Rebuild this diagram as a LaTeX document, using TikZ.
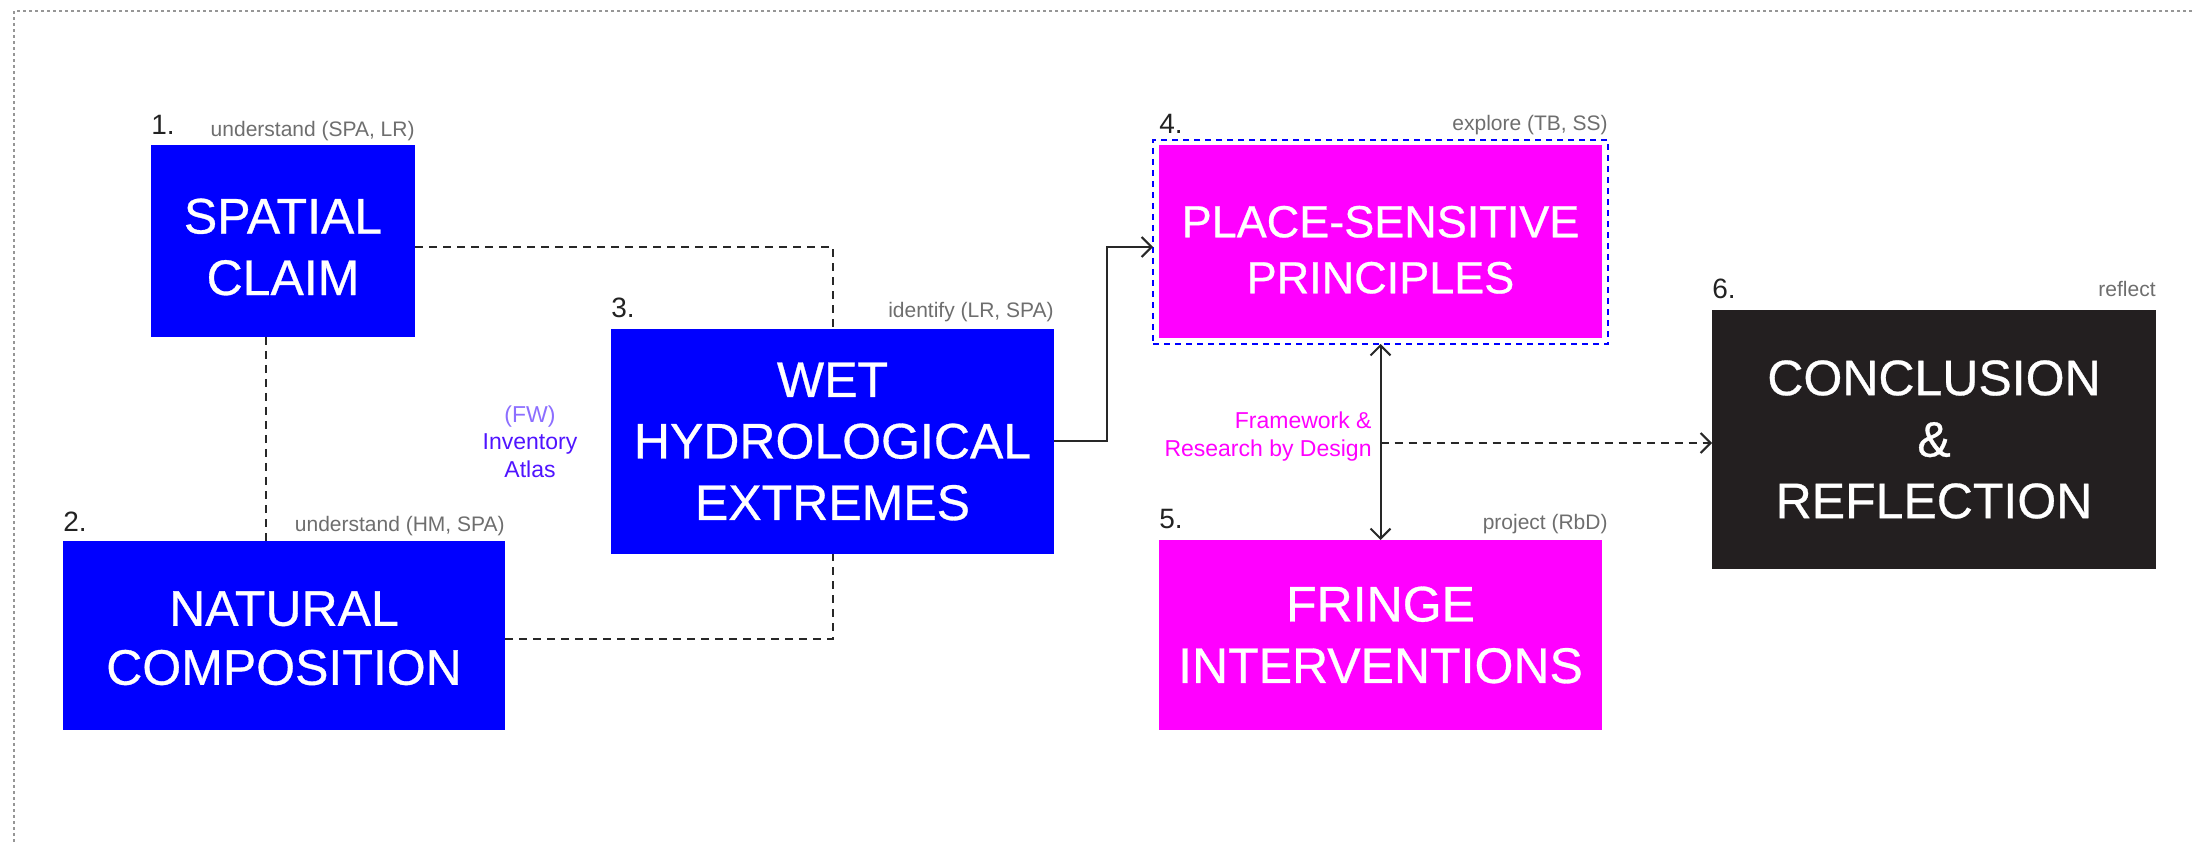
\documentclass[tikz,border=0pt]{standalone}
\usepackage{fontspec}
\setmainfont{Liberation Sans}
\newfontfamily\boxfont[FakeBold=0.6]{Liberation Sans}
\usetikzlibrary{arrows.meta,calc}
\definecolor{pblue}{RGB}{0,0,255}
\definecolor{pmag}{RGB}{255,0,255}
\definecolor{pdark}{RGB}{35,31,32}
\definecolor{pgray}{RGB}{110,110,110}
\definecolor{pnum}{RGB}{34,34,34}
\definecolor{pviolet}{RGB}{80,20,255}
\definecolor{plilac}{RGB}{140,110,255}
\definecolor{pline}{RGB}{40,40,40}
\definecolor{pframe}{RGB}{150,150,150}
\begin{document}
\begin{tikzpicture}[x=0.5pt,y=-0.5pt,
  box/.style={inner sep=0pt, outer sep=0pt, text=white, align=center,
    font=\boxfont\fontsize{25}{30.75}\selectfont},
  bluebox/.style={box, fill=pblue},
  magbox/.style={box, fill=pmag},
  darkbox/.style={box, fill=pdark},
  num/.style={anchor=base west, inner sep=0pt, text=pnum, font=\fontsize{14}{16}\selectfont},
  tag/.style={anchor=base east, inner sep=0pt, text=pgray, font=\fontsize{10.5}{12}\selectfont},
  conn/.style={draw=pline, line width=1pt, dash pattern=on 4pt off 3pt},
  solidarr/.style={draw=pline, line width=1pt, -{Straight Barb[length=5pt,width=10pt,line width=1pt]}},
  botharr/.style={draw=pline, line width=1pt, {Straight Barb[length=5pt,width=10pt,line width=1pt]}-{Straight Barb[length=5pt,width=10pt,line width=1pt]}},
  dasharr/.style={conn, -{Straight Barb[length=5pt,width=10pt,line width=1pt]}},
  note/.style={inner sep=0pt, align=center, font=\fontsize{11.5}{14}\selectfont}
]
\useasboundingbox (0,0) rectangle (2192,845);
% outer frame
\draw[pframe, line width=0.6pt, dash pattern=on 1.5pt off 1.5pt] (2192,11) -- (14,11) -- (14,845);

% boxes
\node[bluebox, minimum width=132pt, minimum height=96pt] (b1) at (283,241) {\rule{0pt}{23.5pt}SPATIAL\\CLAIM};
\node[bluebox, minimum width=221pt, minimum height=94.5pt, font=\boxfont\fontsize{25}{29.5}\selectfont] (b2) at (284,635.5) {\rule{0pt}{20pt}NATURAL\\COMPOSITION};
\node[bluebox, minimum width=221.5pt, minimum height=112.5pt] (b3) at (832.5,441.5) {WET\\HYDROLOGICAL\\EXTREMES};
\node[draw=pblue, line width=1pt, dash pattern=on 3pt off 2.5pt, inner sep=0pt, outer sep=0pt,
      minimum width=227.5pt, minimum height=102pt] (f4) at (1380.5,242) {};
\node[magbox, minimum width=221.5pt, minimum height=96.5pt, font=\boxfont\fontsize{22.5}{28}\selectfont] (b4) at (1380.5,241.5) {\rule{0pt}{24pt}PLACE-SENSITIVE\\PRINCIPLES};
\node[magbox, minimum width=221.5pt, minimum height=95pt] (b5) at (1380.5,635) {FRINGE\\INTERVENTIONS};
\node[darkbox, minimum width=222pt, minimum height=129.5pt] (b6) at (1934,439.5) {CONCLUSION\\\&\\REFLECTION};

% numbers and tags
\node[num] (n1) at ([yshift=5pt]b1.north west) {1.};
\node[tag] (t1) at ([yshift=4pt]b1.north east) {understand (SPA, LR)};
\node[num] (n2) at ([yshift=5pt]b2.north west) {2.};
\node[tag] (t2) at ([yshift=5pt]b2.north east) {understand (HM, SPA)};
\node[num] (n3) at ([yshift=5.5pt]b3.north west) {3.};
\node[tag] (t3) at ([yshift=5.5pt]b3.north east) {identify (LR, SPA)};
\node[num] (n4) at ([yshift=3pt]f4.north west -| b4.west) {4.};
\node[tag] (t4) at ([yshift=4.5pt]f4.north east) {explore (TB, SS)};
\node[num] (n5) at ([yshift=6pt]b5.north west) {5.};
\node[tag] (t5) at ([yshift=5.5pt,xshift=3pt]b5.north east) {project (RbD)};
\node[num] (n6) at ([yshift=5.5pt]b6.north west) {6.};
\node[tag] (t6) at ([yshift=6.5pt]b6.north east) {reflect};

% dashed links between the first three boxes
\coordinate (c1) at ([yshift=-3pt]b1.east);
\draw[conn] (c1) -- (c1 -| b3.north) -- (b3.north);
\coordinate (c2) at ([xshift=-8.5pt]b1.south);
\draw[conn] (c2) -- (c2 |- b2.north);
\coordinate (c3) at ([yshift=-1.75pt]b2.east);
\draw[conn] (c3) -- (c3 -| b3.south) -- (b3.south);

% side note
\node[note, text=plilac] (fw) at (530,417) {(FW)};
\node[note, text=pviolet] (inv) at (530,456) {Inventory\\Atlas};

% solid arrow 3 -> 4
\coordinate (e4) at ([yshift=-2.5pt]f4.west);
\draw[solidarr] (b3.east) -- (1107,441.5) |- (e4);

% double arrow 4 <-> 5
\draw[botharr] (f4.south) -- (b5.north);
\coordinate (mid) at (1380.5,443);
\draw[dasharr] (mid) -- (mid -| b6.west);
\node[note, align=right, anchor=east, text=pmag] (fr) at (1372,437) {Framework \&\\Research by Design};
\end{tikzpicture}
\end{document}
